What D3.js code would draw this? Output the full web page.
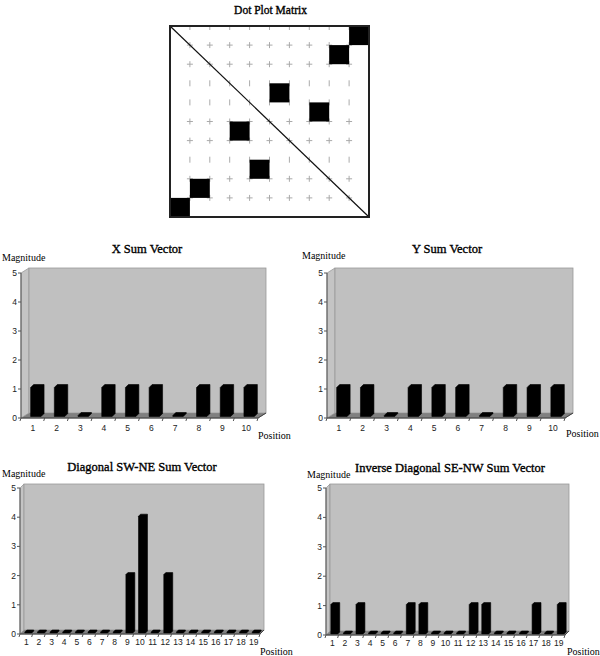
<!DOCTYPE html>
<html>
<head>
<meta charset="utf-8">
<script src="https://cdn.jsdelivr.net/npm/d3@7"></script>
<style>
  body { margin: 0; background: #fff; }
  svg { display: block; }
</style>
</head>
<body>
<div id="chart"></div>
<script>
// dots of the matrix: column (left to right) and row (bottom to top), 1-based
const dotCols = [1, 2, 4, 5, 6, 8, 9, 10];
const dotRows = [1, 2, 5, 3, 7, 6, 9, 10];
const matrixSize = 10;

const shortPositions = d3.range(1, 11);
const longPositions = d3.range(1, 20);
const xSum = [1, 1, 0, 1, 1, 1, 0, 1, 1, 1];
const ySum = [1, 1, 0, 1, 1, 1, 0, 1, 1, 1];
const diagSum = [0, 0, 0, 0, 0, 0, 0, 0, 2, 4, 0, 2, 0, 0, 0, 0, 0, 0, 0];
const invDiagSum = [1, 0, 1, 0, 0, 0, 1, 1, 0, 0, 0, 1, 1, 0, 0, 0, 1, 0, 1];
const magnitudeTicks = [0, 1, 2, 3, 4, 5];

const W = 600, H = 656;
const svg = d3.select("#chart").append("svg").attr("width", W).attr("height", H);

const serif = "'Liberation Serif', 'Times New Roman', serif";
const sans = "'Liberation Sans', Arial, sans-serif";

// ---- dot plot matrix ----
function drawMatrix() {
  const box = {left: 170, right: 369, top: 26, bottom: 217};
  const x = d3.scaleLinear().domain([0, matrixSize]).range([box.left, box.right]);
  const y = d3.scaleLinear().domain([0, matrixSize]).range([box.bottom, box.top]);
  const g = svg.append("g");

  g.append("text")
    .attr("x", (box.left + box.right) / 2 + 1).attr("y", 14)
    .attr("text-anchor", "middle")
    .style("font-family", serif).style("font-size", "11.5px")
    .attr("stroke", "#000").attr("stroke-width", 0.35)
    .text("Dot Plot Matrix");

  // faint grid crosses
  const hRows = [1, 2, 4, 5, 8, 9]; // rows (from bottom) where horizontal dash shows
  for (let i = 1; i < matrixSize; i++) {
    for (let j = 1; j < matrixSize; j++) {
      const cx = x(i), cy = y(j);
      g.append("line").attr("x1", cx).attr("x2", cx).attr("y1", cy - 3).attr("y2", cy + 3)
        .attr("stroke", "#aaa").attr("stroke-width", 1);
      if (hRows.includes(j)) {
        g.append("line").attr("x1", cx - 3).attr("x2", cx + 3).attr("y1", cy).attr("y2", cy)
          .attr("stroke", "#aaa").attr("stroke-width", 1);
      }
    }
  }
  // top edge ticks
  for (let i = 1; i < matrixSize; i++) {
    g.append("line").attr("x1", x(i)).attr("x2", x(i)).attr("y1", box.top).attr("y2", box.top + 4)
      .attr("stroke", "#aaa");
  }

  g.selectAll("rect.dot")
    .data(dotCols.map((c, i) => ({c: c, r: dotRows[i]})))
    .enter().append("rect")
    .attr("class", "dot")
    .attr("x", d => x(d.c - 1))
    .attr("y", d => y(d.r))
    .attr("width", d => x(d.c) - x(d.c - 1))
    .attr("height", d => y(d.r - 1) - y(d.r))
    .attr("fill", "#000");

  g.append("line")
    .attr("x1", x(0)).attr("y1", y(matrixSize))
    .attr("x2", x(matrixSize)).attr("y2", y(0))
    .attr("stroke", "#111").attr("stroke-width", 1.2);

  g.append("rect")
    .attr("x", box.left).attr("y", box.top)
    .attr("width", box.right - box.left).attr("height", box.bottom - box.top)
    .attr("fill", "none").attr("stroke", "#222").attr("stroke-width", 2);
}

// ---- 3D-ish column chart ----
function drawBars(cfg) {
  const g = svg.append("g");
  const x = d3.scaleBand().domain(cfg.positions).range([cfg.x0, cfg.x1]);
  const y = d3.scaleLinear().domain([0, 5]).range([cfg.yb, cfg.yt]);
  const dx = cfg.dx, dy = cfg.dy;

  // floor
  g.append("polygon")
    .attr("points", [[cfg.x0, cfg.yb], [cfg.x1, cfg.yb], [cfg.x1 + dx, cfg.yb + dy], [cfg.x0 + dx, cfg.yb + dy]].join(" "))
    .attr("fill", "#808080").attr("stroke", "#6a6a6a").attr("stroke-width", 0.8);
  // side wall
  g.append("polygon")
    .attr("points", [[cfg.x0, cfg.yb], [cfg.x0, cfg.yt], [cfg.x0 + dx, cfg.yt + dy], [cfg.x0 + dx, cfg.yb + dy]].join(" "))
    .attr("fill", "#c4c4c4").attr("stroke", "#999").attr("stroke-width", 0.8);
  // back wall
  g.append("rect")
    .attr("x", cfg.x0 + dx).attr("y", cfg.yt + dy)
    .attr("width", cfg.x1 - cfg.x0).attr("height", cfg.yb - cfg.yt)
    .attr("fill", "#c0c0c0").attr("stroke", "#999").attr("stroke-width", 0.8);

  // bars
  const bw = x.bandwidth() * cfg.barFrac;
  const bd = cfg.barDepth;
  cfg.values.forEach((v, i) => {
    const cx = x(cfg.positions[i]) + x.bandwidth() / 2 + cfg.barShift[0];
    const bx = cx - bw / 2;
    const base = y(0) + cfg.barShift[1];
    const top = y(v) + cfg.barShift[1];
    const h = Math.max(base - top, 1);
    g.append("polygon")
      .attr("points", [[bx, base], [bx, base - h], [bx + bd, base - h - bd], [bx + bw + bd, base - h - bd],
        [bx + bw + bd, base - bd], [bx + bw, base]].join(" "))
      .attr("fill", "#000").attr("stroke", "#000").attr("stroke-width", 0.6).attr("stroke-linejoin", "round");
  });

  // front axis lines
  g.append("line").attr("x1", cfg.x0).attr("x2", cfg.x0).attr("y1", cfg.yt).attr("y2", cfg.yb)
    .attr("stroke", "#555").attr("stroke-width", 1);
  g.append("line").attr("x1", cfg.x0).attr("x2", cfg.x1).attr("y1", cfg.yb).attr("y2", cfg.yb)
    .attr("stroke", "#444").attr("stroke-width", 1);
  g.append("line").attr("x1", cfg.x1).attr("x2", cfg.x1 + dx).attr("y1", cfg.yb).attr("y2", cfg.yb + dy)
    .attr("stroke", "#444").attr("stroke-width", 1);

  // y ticks
  magnitudeTicks.forEach(t => {
    g.append("line").attr("x1", cfg.x0 - 3).attr("x2", cfg.x0).attr("y1", y(t)).attr("y2", y(t))
      .attr("stroke", "#555");
    g.append("text").attr("x", cfg.x0 - 4).attr("y", y(t) + 3)
      .attr("text-anchor", "end")
      .style("font-family", sans).style("font-size", "8.5px").attr("fill", "#222")
      .text(t);
  });

  // x ticks at band edges
  cfg.positions.concat([null]).forEach((p, i) => {
    const xe = cfg.x0 + i * x.step();
    g.append("line").attr("x1", xe).attr("x2", xe - 1).attr("y1", cfg.yb).attr("y2", cfg.yb + 3)
      .attr("stroke", "#555");
  });
  cfg.positions.forEach(p => {
    g.append("text").attr("x", x(p) + x.bandwidth() / 2).attr("y", cfg.labelY)
      .attr("text-anchor", "middle")
      .style("font-family", sans).style("font-size", "8.5px").attr("fill", "#222")
      .text(p);
  });

  g.append("text").attr("x", cfg.titleX).attr("y", cfg.titleY)
    .attr("text-anchor", "middle")
    .style("font-family", serif).style("font-size", "12.5px")
    .attr("stroke", "#000").attr("stroke-width", 0.35)
    .text(cfg.title);
  g.append("text").attr("x", cfg.magX).attr("y", cfg.magY)
    .style("font-family", serif).style("font-size", "10px")
    .text("Magnitude");
  g.append("text").attr("x", cfg.posX).attr("y", cfg.posY)
    .style("font-family", serif).style("font-size", "10px")
    .text("Position");
}

drawMatrix();

drawBars({
  title: "X Sum Vector", positions: shortPositions, values: xSum,
  x0: 21, x1: 258, yb: 418, yt: 273, dx: 8, dy: -5,
  barFrac: 0.44, barDepth: 3, barShift: [3, -1.5],
  titleX: 147, titleY: 253, magX: 2, magY: 261, posX: 258, posY: 439, labelY: 431
});
drawBars({
  title: "Y Sum Vector", positions: shortPositions, values: ySum,
  x0: 327, x1: 565, yb: 418, yt: 273, dx: 8, dy: -5,
  barFrac: 0.44, barDepth: 3, barShift: [3, -1.5],
  titleX: 447, titleY: 253, magX: 302, magY: 259, posX: 566, posY: 437, labelY: 431
});
drawBars({
  title: "Diagonal SW-NE Sum Vector", positions: longPositions, values: diagSum,
  x0: 20, x1: 260, yb: 634, yt: 488, dx: 4, dy: -4,
  barFrac: 0.55, barDepth: 2, barShift: [2, -1],
  titleX: 142, titleY: 471, magX: 2, magY: 477, posX: 260, posY: 655, labelY: 645
});
drawBars({
  title: "Inverse Diagonal SE-NW Sum Vector", positions: longPositions, values: invDiagSum,
  x0: 326, x1: 565, yb: 635, yt: 488, dx: 4, dy: -4,
  barFrac: 0.55, barDepth: 2, barShift: [2, -1],
  titleX: 450, titleY: 472, magX: 307, magY: 478, posX: 567, posY: 655, labelY: 646
});
</script>
</body>
</html>
